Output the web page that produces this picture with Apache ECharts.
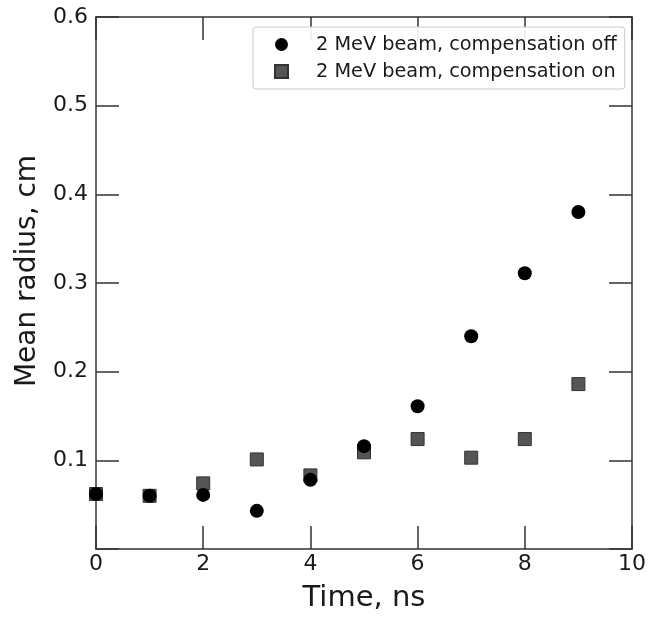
<!DOCTYPE html>
<html>
<head>
<meta charset="utf-8">
<script src="https://cdn.jsdelivr.net/npm/echarts@6/dist/echarts.min.js"></script>
<style>
  html, body { margin: 0; padding: 0; background: #fff; }
  #chart { width: 659px; height: 618px; }
</style>
</head>
<body>
<div id="chart"></div>
<script>
// time, ns
var times = [0, 1, 2, 3, 4, 5, 6, 7, 8, 9]
// mean radius, cm
var radiusOff = [0.062, 0.060, 0.061, 0.043, 0.078, 0.116, 0.161, 0.240, 0.311, 0.380]
var radiusOn = [0.062, 0.060, 0.074, 0.101, 0.083, 0.109, 0.124, 0.103, 0.124, 0.186]
var seriesNames = ['2 MeV beam, compensation off', '2 MeV beam, compensation on']

var font = 'DejaVu Sans'
var axisColor = '#333'
var textColor = '#1a1a1a'

function pairs(xs, ys) {
  var res = []
  for (var i = 0; i < xs.length; i++) {
    res.push([xs[i], ys[i]])
  }
  return res
}

var chart = echarts.init(document.getElementById('chart'))

var tickStyle = {
  show: true,
  inside: true,
  length: 23,
  lineStyle: {color: axisColor, width: 1.5}
}
var lineStyle = {show: true, onZero: false, lineStyle: {color: axisColor, width: 1.5}}

var option = {
  backgroundColor: '#fff',
  animation: false,
  grid: {
    left: 96,
    right: 27,
    top: 17,
    bottom: 67
  },
  legend: {
    left: 253,
    top: 27,
    orient: 'vertical',
    data: [
      {name: seriesNames[0], icon: 'circle'},
      {name: seriesNames[1], icon: 'rect'}
    ],
    itemWidth: 13,
    itemHeight: 13,
    itemGap: 8,
    padding: [8, 8, 8, 21],
    borderColor: '#ccc',
    borderWidth: 1,
    borderRadius: 3,
    backgroundColor: 'rgba(255,255,255,0.9)',
    textStyle: {fontFamily: font, fontSize: 19.3, color: textColor, padding: [0, 0, 0, 23]}
  },
  xAxis: [
    {
      type: 'value',
      min: 0,
      max: 10,
      interval: 2,
      name: 'Time, ns',
      nameLocation: 'middle',
      nameGap: 35,
      nameTextStyle: {fontFamily: font, fontSize: 29, color: textColor},
      axisLine: lineStyle,
      axisTick: tickStyle,
      axisLabel: {fontFamily: font, fontSize: 22, color: textColor, margin: 4},
      splitLine: {show: false}
    },
    {
      type: 'value',
      position: 'top',
      min: 0,
      max: 10,
      interval: 2,
      axisLine: lineStyle,
      axisTick: tickStyle,
      axisLabel: {show: false},
      splitLine: {show: false}
    }
  ],
  yAxis: [
    {
      type: 'value',
      min: 0,
      max: 0.6,
      interval: 0.1,
      name: 'Mean radius, cm',
      nameLocation: 'middle',
      nameGap: 54,
      nameTextStyle: {fontFamily: font, fontSize: 28, color: textColor, padding: [0, 0, 0, 24]},
      axisLine: lineStyle,
      axisTick: tickStyle,
      axisLabel: {
        fontFamily: font,
        fontSize: 22,
        color: textColor,
        margin: 8,
        formatter: function (v) {
          return v === 0 ? '' : v.toFixed(1)
        }
      },
      splitLine: {show: false}
    },
    {
      type: 'value',
      position: 'right',
      min: 0,
      max: 0.6,
      interval: 0.1,
      axisLine: lineStyle,
      axisTick: tickStyle,
      axisLabel: {show: false},
      splitLine: {show: false}
    }
  ],
  series: [
    {
      name: seriesNames[1],
      type: 'scatter',
      symbol: 'rect',
      symbolSize: 13,
      data: pairs(times, radiusOn),
      itemStyle: {color: '#555', borderColor: '#333', borderWidth: 1, opacity: 1}
    },
    {
      name: seriesNames[0],
      type: 'scatter',
      symbol: 'circle',
      symbolSize: 14,
      data: pairs(times, radiusOff),
      itemStyle: {color: '#000', opacity: 1}
    }
  ]
}

chart.setOption(option, true)
</script>
</body>
</html>
